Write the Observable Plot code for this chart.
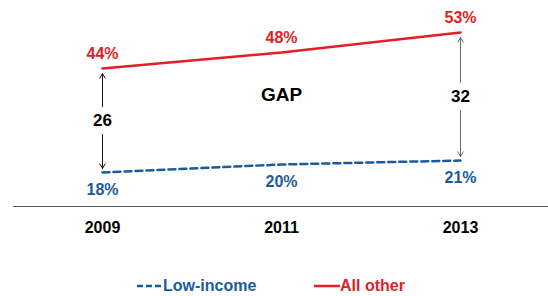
<!DOCTYPE html>
<html><head><meta charset="utf-8">
<script src="https://cdn.jsdelivr.net/npm/d3@7"></script>
<script src="https://cdn.jsdelivr.net/npm/@observablehq/plot@0.6"></script>
<style>
body{margin:0;background:#fff;font-family:"Liberation Sans",Arial,sans-serif;}
#legend{position:relative;height:56px;font-weight:bold;font-size:16px;}
.item{position:absolute;top:37px;display:flex;align-items:center;}
</style></head>
<body><div id="chart"></div><div id="legend"></div>
<script>
const years = ["2009","2011","2013"];
const lowIncome = [18,20,21];
const allOther = [44,48,53];
const gaps = [{year:"2009", value:26},{year:"2013", value:32}];
const gapTitle = {year:"2011", value:37.3, text:"GAP"};
const RED = "#E31E26", BLUE = "#1A5C9B";

const low = years.map((y,i)=>({year:y, v:lowIncome[i]}));
const oth = years.map((y,i)=>({year:y, v:allOther[i]}));
const gapRows = gaps.map(g=>{
  const i = years.indexOf(g.year);
  const top = allOther[i], bot = lowIncome[i];
  return {year:g.year, top, bot, mid:(top+bot)/2, text:String(g.value), col: g.year==="2009" ? "#111" : "#666"};
});

const plot = Plot.plot({
  width:548, height:240,
  marginLeft:13, marginRight:0, marginTop:4, marginBottom:34,
  x:{type:"point", domain:years, padding:0.49, label:null},
  y:{domain:[9.5,60], axis:null},
  style:{fontFamily:"Liberation Sans, Arial, sans-serif", background:"#fff"},
  marks:[
    Plot.ruleY([9.5],{stroke:"#555", strokeWidth:1.2}),
    Plot.axisX({tickSize:0, tickPadding:15, fontSize:16, fontWeight:"bold", fill:"#000", label:null}),
    Plot.line(oth,{x:"year", y:"v", stroke:RED, strokeWidth:2.5}),
    Plot.line(low,{x:"year", y:"v", stroke:BLUE, strokeWidth:2.5, strokeDasharray:"7,4"}),
    Plot.text(oth,{x:"year", y:"v", text:d=>d.v+"%", dy:-15, fill:RED, fontSize:16, fontWeight:"bold"}),
    Plot.text(low,{x:"year", y:"v", text:d=>d.v+"%", dy:17, fill:BLUE, fontSize:16, fontWeight:"bold"}),
    Plot.arrow(gapRows,{x:"year", y1:"mid", y2:"top", stroke:"col", strokeWidth:1, headLength:8, insetStart:14, insetEnd:5}),
    Plot.arrow(gapRows,{x:"year", y1:"mid", y2:"bot", stroke:"col", strokeWidth:1, headLength:8, insetStart:14, insetEnd:4}),
    Plot.text(gapRows,{x:"year", y:"mid", text:"text", fill:"#000", fontSize:17, fontWeight:"bold"}),
    Plot.text([gapTitle],{x:"year", y:"value", text:"text", fill:"#000", fontSize:19, fontWeight:"bold"})
  ]
});
document.getElementById("chart").appendChild(plot);

const leg = document.getElementById("legend");
leg.innerHTML = `
<div class="item" style="left:137px;color:${BLUE}"><svg width="26" height="10"><line x1="0" y1="5" x2="26" y2="5" stroke="${BLUE}" stroke-width="2.5" stroke-dasharray="6,3"/></svg>Low-income</div>
<div class="item" style="left:314px;color:${RED}"><svg width="26" height="10"><line x1="0" y1="5" x2="26" y2="5" stroke="${RED}" stroke-width="2.5"/></svg>All other</div>`;
</script></body></html>
